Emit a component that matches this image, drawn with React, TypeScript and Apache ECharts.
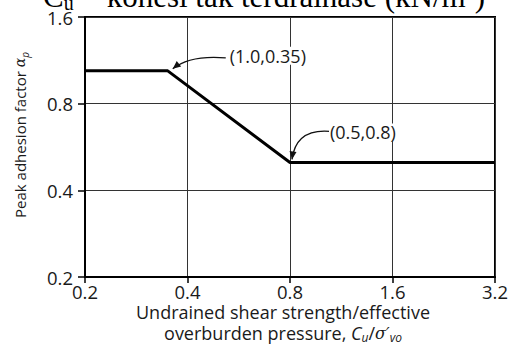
import React, { useEffect, useRef } from 'react';
import * as echarts from 'echarts';

const X_TICKS = [0.2, 0.4, 0.8, 1.6, 3.2];
const Y_TICKS = [0.2, 0.4, 0.8, 1.6];
const curveX = [0.2, 0.35, 0.8, 3.2];
const curveY = [1.04, 1.04, 0.5, 0.5];
const annoLabels = ['(1.0,0.35)', '(0.5,0.8)'];
const annoX = [0.35, 0.8];
const annoY = [1.04, 0.5];

const BASE = 0.2;
const t = (v: number) => Math.log2(v / BASE);
const FONT = 'Open Sans';
const INK = '#1a1a1a';

export default function App() {
  const ref = useRef<HTMLDivElement>(null);
  useEffect(() => {
    if (!ref.current) return;
    const chart = echarts.init(ref.current, undefined, { renderer: 'svg' });
    const option: any = {
      animation: false,
      backgroundColor: '#fff',
      grid: { left: 85, right: 16, top: 17, bottom: 75, show: true, borderColor: '#000', borderWidth: 2 },
      xAxis: {
        type: 'value', min: 0, max: X_TICKS.length - 1, interval: 1,
        axisLine: { show: true, lineStyle: { color: '#000', width: 2 } },
        axisTick: { show: true, length: 6, lineStyle: { color: '#000', width: 1.5 } },
        splitLine: { show: true, lineStyle: { color: '#333', width: 1 } },
        axisLabel: { margin: 6, lineHeight: 17, fontFamily: FONT, fontSize: 18.5, color: INK, formatter: (v: number) => String(X_TICKS[Math.round(v)]) },
      },
      yAxis: {
        type: 'value', min: 0, max: Y_TICKS.length - 1, interval: 1,
        axisLine: { show: true, lineStyle: { color: '#000', width: 2 } },
        axisTick: { show: true, length: 7, lineStyle: { color: '#000', width: 1.5 } },
        splitLine: { show: true, lineStyle: { color: '#333', width: 1 } },
        axisLabel: { margin: 12, fontFamily: FONT, fontSize: 18.5, color: INK, formatter: (v: number) => String(Y_TICKS[Math.round(v)]) },
      },
      series: [{
        type: 'line', symbol: 'none', silent: true,
        data: curveX.map((x, i) => [t(x), t(curveY[i])]),
        lineStyle: { color: '#000', width: 3 },
      }],
    };
    chart.setOption(option);

    const graphics: any[] = [];
    // title (cut at top in the source image)
    graphics.push({
      type: 'text', left: 43, top: -21, silent: true,
      style: {
        text: '{n|C}{s|u}{n| = kohesi tak terdrainase (kN/m}{p|2}{n|)}',
        fill: '#000',
        rich: {
          n: { fontFamily: 'Liberation Serif', fontSize: 31, lineHeight: 34, fill: '#000' },
          s: { fontFamily: 'Liberation Serif', fontSize: 20, lineHeight: 20, verticalAlign: 'bottom', fill: '#000' },
          p: { fontFamily: 'Liberation Serif', fontSize: 18, lineHeight: 18, verticalAlign: 'top', fill: '#000' },
        },
      },
    });
    // y axis name
    graphics.push({
      type: 'text', x: 20, y: 135, rotation: Math.PI / 2, silent: true,
      style: {
        text: '{n|Peak adhesion factor }{i|α}{s|p}',
        align: 'center', verticalAlign: 'middle',
        rich: {
          n: { fontFamily: FONT, fontSize: 15, lineHeight: 20, fill: INK },
          i: { fontFamily: 'DejaVu Serif', fontStyle: 'italic', fontSize: 14, lineHeight: 20, fill: INK },
          s: { fontFamily: FONT, fontStyle: 'italic', fontSize: 10, lineHeight: 10, verticalAlign: 'bottom', fill: INK },
        },
      },
    });
    // x axis name
    graphics.push({
      type: 'text', x: 283, y: 312, silent: true,
      style: { text: 'Undrained shear strength/effective', align: 'center', verticalAlign: 'middle', fontFamily: FONT, fontSize: 18, lineHeight: 19, fill: INK },
    });
    graphics.push({
      type: 'text', x: 283, y: 333, silent: true,
      style: {
        text: '{n|overburden pressure, }{i|C}{s|u}{n|/}{g|σ′}{s|vo}',
        align: 'center', verticalAlign: 'middle',
        rich: {
          n: { fontFamily: FONT, fontSize: 18, lineHeight: 20, fill: INK },
          i: { fontFamily: FONT, fontStyle: 'italic', fontSize: 18, lineHeight: 20, fill: INK },
          g: { fontFamily: 'DejaVu Serif', fontStyle: 'italic', fontSize: 16, lineHeight: 20, fill: INK },
          s: { fontFamily: FONT, fontStyle: 'italic', fontSize: 12, lineHeight: 12, verticalAlign: 'bottom', fill: INK },
        },
      },
    });

    // annotations with arrows
    const offsets = [
      { tx: 61, ty: -15, sx: 58, sy: -13, cx: 22, cy: -16, ex: 5, ey: -2 },
      { tx: 39, ty: -30, sx: 40, sy: -31, cx: 6, cy: -34, ex: 2, ey: -3 },
    ];
    annoLabels.forEach((lab, i) => {
      const p = chart.convertToPixel({ gridIndex: 0 }, [t(annoX[i]), t(annoY[i])]) as number[];
      const o = offsets[i];
      const sx = p[0] + o.sx, sy = p[1] + o.sy;
      const cx = p[0] + o.cx, cy = p[1] + o.cy;
      const ex = p[0] + o.ex, ey = p[1] + o.ey;
      graphics.push({
        type: 'bezierCurve', silent: true, z: 10,
        shape: { x1: sx, y1: sy, cpx1: cx, cpy1: cy, x2: ex, y2: ey },
        style: { stroke: '#111', lineWidth: 1.3, fill: 'none' },
      });
      let dx = ex - cx, dy = ey - cy;
      const len = Math.hypot(dx, dy); dx /= len; dy /= len;
      const L = 8, W = 3.5;
      const bx = ex - dx * L, by = ey - dy * L;
      graphics.push({
        type: 'polygon', silent: true, z: 10,
        shape: { points: [[ex, ey], [bx - dy * W, by + dx * W], [bx + dy * W, by - dx * W]] },
        style: { fill: '#111' },
      });
      graphics.push({
        type: 'text', x: p[0] + o.tx, y: p[1] + o.ty, silent: true, z: 11,
        style: {
          text: lab, align: 'left', verticalAlign: 'middle', fontFamily: FONT, fontSize: 18, fill: INK,
          backgroundColor: '#fff', padding: [0, 1],
        },
      });
    });
    chart.setOption({ graphic: graphics });
    return () => chart.dispose();
  }, []);
  return <div ref={ref} style={{ width: 511, height: 352, position: 'fixed', left: 0, top: 0, background: '#fff' }} />;
}
